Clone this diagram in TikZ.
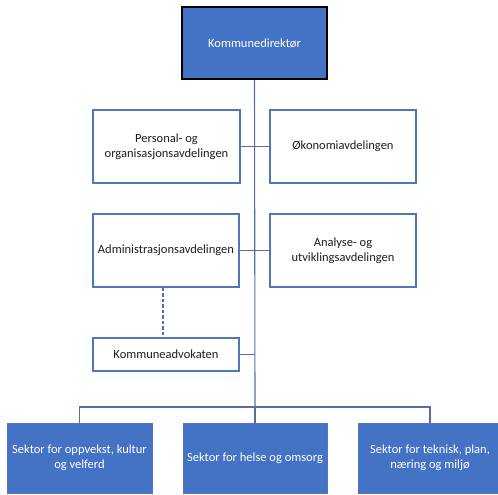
\documentclass[tikz,border=0pt]{standalone}
\usepackage{fontspec}
\setmainfont{Carlito}
\definecolor{boxblue}{RGB}{68,114,196}
\definecolor{edgeblue}{RGB}{80,120,185}
\definecolor{linecol}{RGB}{85,112,160}
\definecolor{txt}{RGB}{30,30,30}
\begin{document}
\begin{tikzpicture}[x=1pt,y=-1pt,
  every node/.style={inner sep=2pt,align=center,font=\fontsize{12.5}{15}\selectfont},
  bluebox/.style={rectangle,fill=boxblue,draw=edgeblue,line width=0.8pt,text=white},
  topbox/.style={rectangle,fill=boxblue,draw=black,line width=2pt,text=white},
  whitebox/.style={rectangle,fill=white,draw=edgeblue,line width=1.3pt,text=txt},
  conn/.style={draw=linecol,line width=1.1pt}]
\useasboundingbox (0,0) rectangle (498,495);
\node[topbox,minimum width=145pt,minimum height=72pt] (top) at (254.5,43) {Kommunedirektør};
\node[whitebox,minimum width=147pt,minimum height=73pt] (per) at (166.5,146.5) {Personal- og\\organisasjonsavdelingen};
\node[whitebox,minimum width=146pt,minimum height=73pt] (oko) at (343,146.5) {Økonomiavdelingen};
\node[whitebox,minimum width=146pt,minimum height=73pt] (adm) at (166,250.5) {Administrasjonsavdelingen};
\node[whitebox,minimum width=146pt,minimum height=73pt] (ana) at (343,250.5) {Analyse- og\\utviklingsavdelingen};
\node[whitebox,minimum width=146pt,minimum height=33pt] (adv) at (166,354.5) {Kommuneadvokaten};
\coordinate (bus) at (255,407);
\node[bluebox,minimum width=145pt,minimum height=70pt] (s1) at (79.5,458) {Sektor for oppvekst, kultur\\og velferd};
\node[bluebox,minimum width=144pt,minimum height=70pt] (s2) at (255,458) {Sektor for helse og omsorg};
\node[bluebox,minimum width=144pt,minimum height=70pt] (s3) at (430,458) {Sektor for teknisk, plan,\\næring og miljø};
% connectors
\draw[conn] (top.south) -- (bus);
\draw[conn] (per.east) -- (oko.west);
\draw[conn] (adm.east) -- (ana.west);
\draw[conn] (adv.east) -- (adv.east -| bus);
\draw[conn] (s1.north) |- (bus) -| (s3.north);
\draw[conn] (bus) -- (s2.north);
\draw[conn,line width=1.4pt,dash pattern=on 3.5pt off 2pt] ([xshift=-3pt]adm.south) -- ([xshift=-3pt]adv.north);
\end{tikzpicture}
\end{document}
